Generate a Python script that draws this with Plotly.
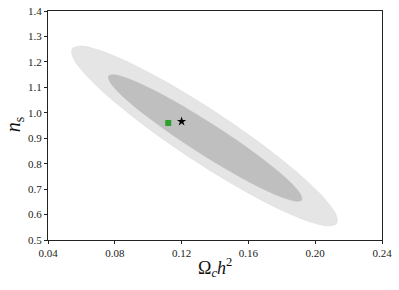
import plotly.graph_objects as go

# 95% contour boundary (Omega_c h^2, n_s)
outer_x = [0.2129, 0.2080, 0.1980, 0.1836, 0.1659, 0.1459, 0.1251, 0.1049, 0.0867, 0.0716,
           0.0608, 0.0550, 0.0545, 0.0594, 0.0694, 0.0838, 0.1015, 0.1215, 0.1423, 0.1625,
           0.1807, 0.1958, 0.2066, 0.2124]
outer_y = [0.5661, 0.5557, 0.5693, 0.6062, 0.6635, 0.7377, 0.8235, 0.9151, 1.0063, 1.0908,
           1.1629, 1.2177, 1.2515, 1.2619, 1.2483, 1.2114, 1.1541, 1.0799, 0.9941, 0.9025,
           0.8113, 0.7268, 0.6547, 0.5999]

# 68% contour boundary
inner_x = [0.1919, 0.1886, 0.1817, 0.1714, 0.1586, 0.1442, 0.1291, 0.1142, 0.1008, 0.0896,
           0.0815, 0.0770, 0.0763, 0.0796, 0.0865, 0.0968, 0.1096, 0.1240, 0.1391, 0.1540,
           0.1674, 0.1786, 0.1867, 0.1912]
inner_y = [0.6576, 0.6527, 0.6646, 0.6928, 0.7349, 0.7885, 0.8498, 0.9145, 0.9783, 1.0368,
           1.0860, 1.1227, 1.1442, 1.1491, 1.1372, 1.1090, 1.0669, 1.0133, 0.9520, 0.8873,
           0.8235, 0.7650, 0.7158, 0.6791]

# markers
square_x = [0.112]
square_y = [0.960]
star_x = [0.120]
star_y = [0.966]

x_ticks = [0.04, 0.08, 0.12, 0.16, 0.20, 0.24]
x_tick_labels = ["0.04", "0.08", "0.12", "0.16", "0.20", "0.24"]
y_ticks = [0.5, 0.6, 0.7, 0.8, 0.9, 1.0, 1.1, 1.2, 1.3, 1.4]
y_tick_labels = ["0.5", "0.6", "0.7", "0.8", "0.9", "1.0", "1.1", "1.2", "1.3", "1.4"]

x_title = "Ω<sub><i>c</i></sub><i>h</i><sup>2</sup>"
y_title = "<i>n</i><sub>s</sub>"

FONT = "Liberation Serif"

fig = go.Figure()
fig.add_trace(go.Scatter(x=outer_x + outer_x[:1], y=outer_y + outer_y[:1], mode="lines",
                         line=dict(width=0.6, color="#dcdcdc", shape="spline"),
                         fill="toself", fillcolor="#e5e5e5", hoverinfo="skip"))
fig.add_trace(go.Scatter(x=inner_x + inner_x[:1], y=inner_y + inner_y[:1], mode="lines",
                         line=dict(width=0.6, color="#bcbcbc", shape="spline"),
                         fill="toself", fillcolor="#bfbfbf", hoverinfo="skip"))
fig.add_trace(go.Scatter(x=square_x, y=square_y, mode="markers",
                         marker=dict(symbol="square", size=6, color="#2ca02c")))
fig.add_trace(go.Scatter(x=star_x, y=star_y, mode="markers",
                         marker=dict(symbol="star", size=7, color="black")))

axis_common = dict(showgrid=False, zeroline=False, showline=True, linecolor="#222222",
                   linewidth=1.2, mirror=True, ticks="outside", ticklen=3, tickwidth=1,
                   tickcolor="#222222", automargin=False,
                   tickfont=dict(family=FONT, size=11, color="#222222"))

fig.update_layout(
    width=399, height=290,
    margin=dict(l=48, r=17, t=11, b=50),
    paper_bgcolor="white", plot_bgcolor="white",
    showlegend=False,
    font=dict(family=FONT, color="#111111"),
    xaxis=dict(range=[0.04, 0.24], tickvals=x_ticks, ticktext=x_tick_labels, **axis_common),
    yaxis=dict(range=[0.5, 1.4], tickvals=y_ticks, ticktext=y_tick_labels, **axis_common),
    annotations=[
        dict(text=x_title, xref="paper", yref="paper", x=0.5, y=-0.118,
             xanchor="center", yanchor="middle", showarrow=False,
             font=dict(family=FONT, size=18, color="#111111")),
        dict(text=y_title, xref="paper", yref="paper", x=-0.102, y=0.505,
             xanchor="center", yanchor="middle", showarrow=False, textangle=-90,
             font=dict(family=FONT, size=20, color="#111111")),
    ],
)

fig.write_html("out.html", config={"displayModeBar": False},
               post_script="document.body.style.margin='0';document.body.style.overflow='hidden';")
